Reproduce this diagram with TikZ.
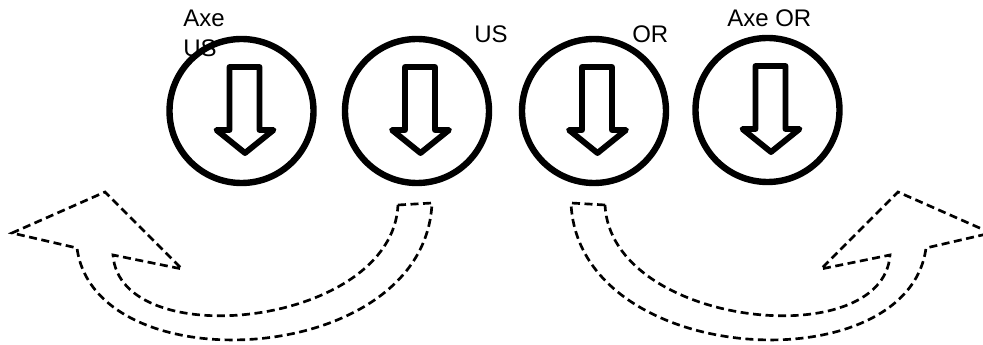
\documentclass[tikz,border=0pt]{standalone}
\usepackage{fontspec}
\setmainfont{Liberation Sans}
\usepackage{tikz}
\usetikzlibrary{calc}

\begin{document}
\begin{tikzpicture}[x=0.75pt, y=-0.75pt]
    \tikzset{disc/.style={circle,draw,line width=4.8pt,minimum size=108pt,inner sep=0pt}}
    \tikzset{downarrow/.style={draw,line width=4.4pt,line join=round}}
    \tikzset{turn/.style={draw,line width=2pt,dash pattern=on 6pt off 3.4pt,line join=miter}}
    \tikzset{lab/.style={font=\fontsize{18pt}{22.5pt}\selectfont,inner sep=0pt,anchor=base west}}
    \clip (0,0) rectangle (983,345);

    % Nodes
    \node (axeUS) [disc] at (241.5,111) {};
    \node (US) [disc] at (417,111) {};
    \node (OR) [disc] at (594,111) {};
    \node (axeOR) [disc] at (767.5,110) {};

    \node (axeUS-lab) [lab,align=left] at (183,57) {Axe\\US};
    \node (US-lab) [lab] at (474,43) {US};
    \node (OR-lab) [lab] at (632,43) {OR};
    \node (axeOR-lab) [lab] at (727,27) {Axe OR};

    % Arrows in the discs
    \foreach \n in {axeUS,US,OR,axeOR}
        \draw [downarrow,shift={(\n.center)}] (-12,-44) -- (18,-44) -- (18,19) -- (32,19)
            -- (3.5,42) -- (-25,19) -- (-12,19) -- cycle;

    % Turning arrows
    \draw [turn] (398,205) -- (432,203) .. controls (425,368) and (95,385) .. (77,248)
        -- (12,233) -- (105,192) -- (182,269) -- (113,255)
        .. controls (120,355) and (392,327) .. (398,205) -- cycle;
    \draw [turn] (605,205) -- (571,203) .. controls (578,368) and (908,385) .. (926,248)
        -- (991,233) -- (898,192) -- (821,269) -- (890,255)
        .. controls (883,355) and (611,327) .. (605,205) -- cycle;

\end{tikzpicture}
\end{document}
